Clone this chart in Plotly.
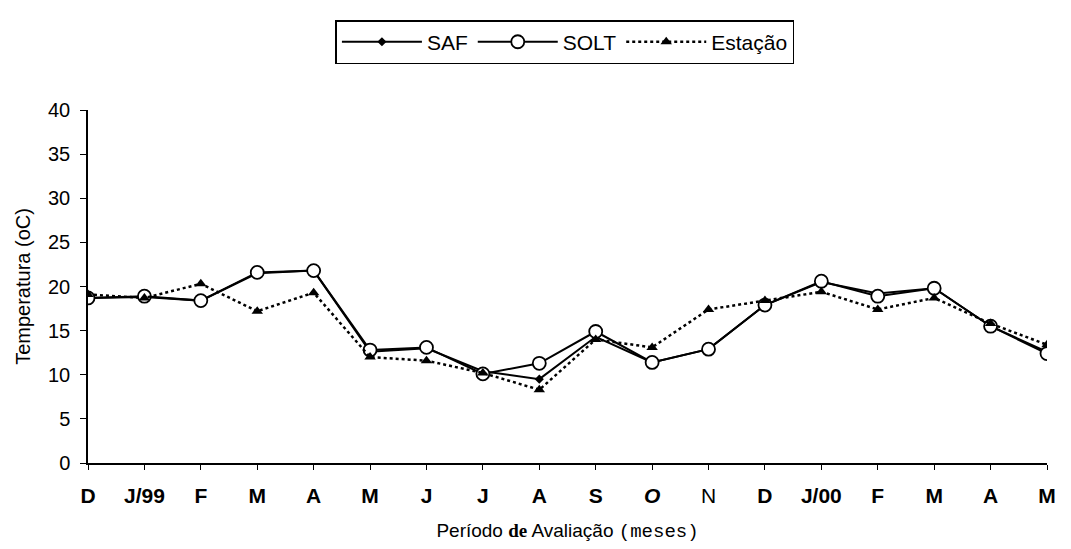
import plotly.graph_objects as go

# Meses do período de avaliação
meses = ['D', 'J/99', 'F', 'M', 'A', 'M', 'J', 'J', 'A', 'S',
         '<i>O</i>', 'N', 'D', 'J/00', 'F', 'M', 'A', 'M']

saf = [18.7, 18.8, 18.4, 21.5, 21.8, 12.6, 13.0, 10.4, 9.5, 14.3,
       11.4, 12.9, 17.9, 20.5, 19.2, 19.8, 15.5, 12.6]
solt = [18.7, 18.9, 18.4, 21.6, 21.8, 12.8, 13.1, 10.1, 11.3, 14.9,
        11.4, 12.9, 17.9, 20.6, 18.9, 19.8, 15.5, 12.4]
estacao = [19.1, 18.7, 20.3, 17.2, 19.3, 12.0, 11.6, 10.2, 8.3, 14.0,
           13.1, 17.4, 18.4, 19.4, 17.4, 18.7, 15.8, 13.4]

y_ticks = [0, 5, 10, 15, 20, 25, 30, 35, 40]

x = list(range(len(meses)))
# "N" aparece sem negrito no original
rotulos = [m if m == 'N' else '<b>%s</b>' % m for m in meses]

titulo_x = ('Período <span style="font-family:Liberation Serif"><b>de</b></span> '
            'Avaliação <span style="font-family:Liberation Mono">(meses)</span>')

fig = go.Figure()
fig.add_trace(go.Scatter(
    x=x, y=saf, name='SAF', mode='lines+markers',
    line=dict(color='black', width=2),
    marker=dict(symbol='diamond', size=7, color='black'),
))
fig.add_trace(go.Scatter(
    x=x, y=solt, name='SOLT', mode='lines+markers',
    line=dict(color='black', width=2),
    marker=dict(symbol='circle', size=13, color='white',
                line=dict(color='black', width=1.8)),
))
fig.add_trace(go.Scatter(
    x=x, y=estacao, name='Estação', mode='lines+markers',
    line=dict(color='black', width=2.5, dash='dot'),
    marker=dict(symbol='triangle-up', size=10, color='black'),
))

fig.update_layout(
    width=1071, height=549,
    margin=dict(l=80, r=32, t=102, b=94),
    plot_bgcolor='white',
    paper_bgcolor='white',
    font=dict(family='Arial, Liberation Sans, sans-serif', color='black', size=16),
    showlegend=True,
    legend=dict(orientation='h', xref='container', yref='container',
                x=0.52, xanchor='center', y=0.978, yanchor='top',
                bordercolor='black', borderwidth=1.5, itemwidth=80,
                font=dict(size=21), bgcolor='white'),
    xaxis=dict(
        tickmode='array', tickvals=x, ticktext=rotulos,
        range=[0, len(meses) - 1],
        showline=True, linecolor='black', linewidth=1.5,
        ticks='outside', ticklen=5, tickcolor='black',
        ticklabelstandoff=8,
        showgrid=False, zeroline=False,
        tickfont=dict(size=21),
        title=dict(text=titulo_x, font=dict(size=19), standoff=18),
    ),
    yaxis=dict(
        tickvals=y_ticks, range=[0, 40],
        showline=True, linecolor='black', linewidth=1.5,
        ticks='outside', ticklen=6, tickcolor='black',
        ticklabelstandoff=6,
        showgrid=False, zeroline=False,
        tickfont=dict(size=20),
        title=dict(text='Temperatura (oC)', font=dict(size=20), standoff=12),
    ),
)

fig.write_html('out.html')
